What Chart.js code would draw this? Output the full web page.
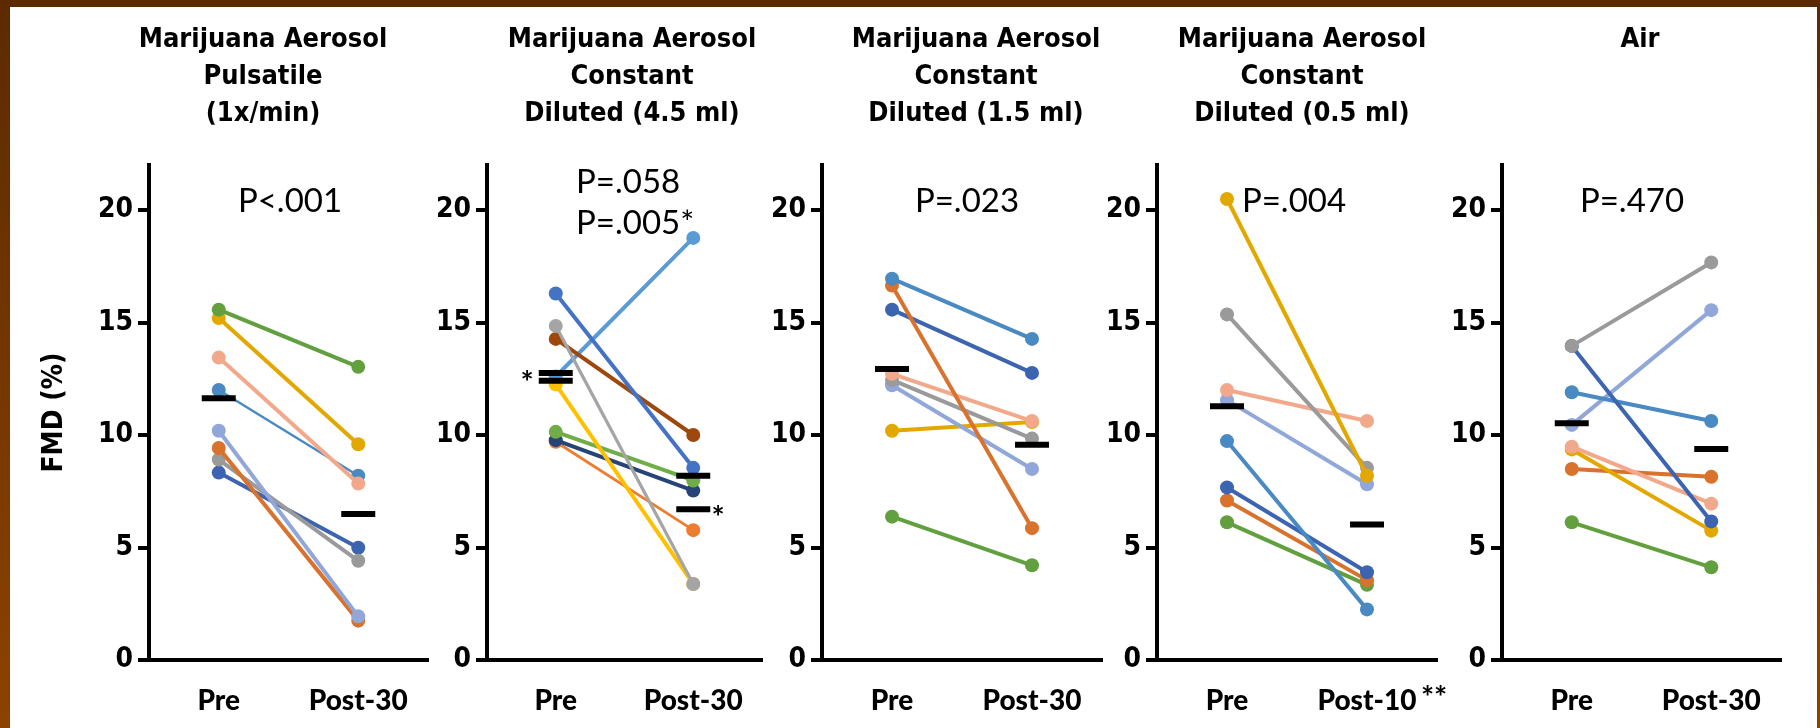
<!DOCTYPE html>
<html>
<head>
<meta charset="utf-8">
<script src="https://cdn.jsdelivr.net/npm/chart.js@4.4.1/dist/chart.umd.min.js"></script>
<style>
  html, body { margin: 0; padding: 0; background: #fff; width: 1820px; height: 728px; overflow: hidden; }
  .frame { position: absolute; }
  #frameTop { left: 0; top: 0; width: 1820px; height: 7px; background: #5c2a00; }
  #frameLeft { left: 0; top: 0; width: 10px; height: 728px; background: linear-gradient(#5c2a00, #8c4300); }
  #frameRight { right: 0; top: 0; width: 3px; height: 728px; background: linear-gradient(#5c2a00, #8c4300); }
  canvas { position: absolute; top: 0; }
</style>
</head>
<body>
<div class="frame" id="frameTop"></div>
<div class="frame" id="frameLeft"></div>
<div class="frame" id="frameRight"></div>
<canvas id="p1"></canvas>
<canvas id="p2"></canvas>
<canvas id="p3"></canvas>
<canvas id="p4"></canvas>
<canvas id="p5"></canvas>
<script>
// ---- data: FMD (%) per subject, before and after exposure ----
const timeLabels = ['Pre', 'Post-30'];
const timeLabels10 = ['Pre', 'Post-10'];
const yTickValues = [0, 5, 10, 15, 20];
const yMax = 22;

// Marijuana aerosol, pulsatile (1x/min)
const pulsatilePre  = [15.57, 15.20, 13.44, 12.00, 10.19, 9.42, 8.91, 8.33];
const pulsatilePost = [13.03,  9.59,  7.84,  8.19,  1.94, 1.75, 4.41, 4.99];
const pulsatileMean = [11.63, 6.49];

// Marijuana aerosol, constant, diluted 4.5 ml
const dil45Pre  = [16.29, 14.85, 14.27, 12.60, 12.25, 10.14, 9.77, 9.70];
const dil45Post = [ 8.54,  3.38, 10.00, 18.76,  3.38,  7.98, 7.53, 5.77];
const dil45Mean     = [12.41, 8.19];
const dil45MeanStar = [12.76, 6.70];

// Marijuana aerosol, constant, diluted 1.5 ml
const dil15Pre  = [16.95, 16.64, 15.57, 12.72, 12.45, 12.21, 10.19, 6.37];
const dil15Post = [14.27,  5.86, 12.76, 10.62,  9.84,  8.49, 10.58, 4.21];
const dil15Mean = [12.93, 9.57];

// Marijuana aerosol, constant, diluted 0.5 ml
const dil05Pre  = [20.49, 15.36, 12.00, 11.55, 9.73, 7.67, 7.09, 6.12];
const dil05Post = [ 8.19,  8.54, 10.62,  7.81, 2.25, 3.90, 3.55, 3.34];
const dil05Mean = [11.28, 6.02];

// Air
const airPre  = [13.96, 13.96, 11.90, 10.45, 9.48, 9.36, 8.49, 6.12];
const airPost = [17.67,  6.16, 10.62, 15.55, 6.95, 5.75, 8.14, 4.12];
const airMean = [10.52, 9.38];

// ---- styling ----
const C = {
  green: '#62a03f', gold: '#e3a800', salmon: '#f2a98b', steel: '#4a8ac3',
  lavender: '#91a7da', orange: '#d8722d', gray: '#9a9a9a', darkBlue: '#3c64b1'
};
const C2 = {
  blue: '#4472c4', gray: '#a5a5a5', brown: '#9e480e', lightBlue: '#5b9bd5',
  yellow: '#ffc000', green: '#70ad47', navy: '#264478', orange: '#ed7d31'
};

const FONT_TITLE = 'bold 27px "DejaVu Sans Condensed"';
const FONT_P = '33px Lato';
const FONT_STAR = 'bold 31px Lato';
const AXIS_TOP = 165, AXIS_BOTTOM = 660, PAGE_H = 728;

// draws the free-standing texts of a panel (titles, p values, asterisks)
const panelText = {
  id: 'panelText',
  afterDraw(chart, args, opts) {
    const ctx = chart.ctx;
    ctx.save();
    ctx.fillStyle = '#000';
    for (const t of opts.items) {
      ctx.font = t.font;
      const x = t.x - opts.left;
      if (t.ink) {
        ctx.textAlign = 'left';
        ctx.textBaseline = 'alphabetic';
        const m = ctx.measureText(t.text);
        const w = m.actualBoundingBoxLeft + m.actualBoundingBoxRight;
        const h = m.actualBoundingBoxAscent + m.actualBoundingBoxDescent;
        ctx.fillText(t.text, x - w / 2 + m.actualBoundingBoxLeft, t.y + m.actualBoundingBoxAscent - h / 2);
      } else {
        ctx.textAlign = t.align || 'center';
        ctx.textBaseline = 'middle';
        ctx.fillText(t.text, x, t.y);
      }
    }
    ctx.restore();
  }
};

function subjectSets(pre, post, colors, widths) {
  return pre.map((v, i) => ({
    data: [v, post[i]],
    borderColor: colors[i],
    backgroundColor: colors[i],
    pointBackgroundColor: colors[i],
    pointBorderColor: colors[i],
    pointBorderWidth: 0,
    pointRadius: 7,
    pointHoverRadius: 7,
    borderWidth: widths ? widths[i] : 4,
    tension: 0
  }));
}

function meanSet(values) {
  return {
    data: values,
    showLine: false,
    pointStyle: 'line',
    pointRadius: 17,
    pointHoverRadius: 17,
    pointBorderWidth: 6,
    pointBorderColor: '#000',
    pointBackgroundColor: '#000',
    borderColor: '#000',
    order: -1
  };
}

function makePanel(id, left, right, axisX, axisEnd, labels, datasets, texts, yTitle) {
  const cv = document.getElementById(id);
  cv.width = right - left;
  cv.height = PAGE_H;
  cv.style.left = left + 'px';
  cv.style.width = (right - left) + 'px';
  cv.style.height = PAGE_H + 'px';
  return new Chart(cv, {
    type: 'line',
    data: { labels: labels, datasets: datasets },
    plugins: [panelText],
    options: {
      responsive: false,
      animation: false,
      devicePixelRatio: 1,
      events: [],
      layout: { padding: { top: AXIS_TOP, right: right - axisEnd, bottom: 0, left: 0 } },
      plugins: {
        legend: { display: false },
        tooltip: { enabled: false },
        title: { display: false },
        panelText: { left: left, items: texts }
      },
      scales: {
        x: {
          type: 'category',
          offset: true,
          grid: { display: false, drawTicks: false, tickLength: 0 },
          border: { display: true, color: '#000', width: 4 },
          ticks: { color: '#000', font: { family: 'Lato', weight: '900', size: 28 }, padding: 24, maxRotation: 0 },
          afterFit(scale) { scale.height = PAGE_H - AXIS_BOTTOM; }
        },
        y: {
          min: 0,
          max: yMax,
          afterBuildTicks(scale) { scale.ticks = yTickValues.map(v => ({ value: v })); },
          afterFit(scale) { scale.width = axisX - left; },
          grid: { drawOnChartArea: false, drawTicks: true, tickLength: 11, color: '#000', lineWidth: 4 },
          border: { display: true, color: '#000', width: 4 },
          ticks: { color: '#000', font: { family: 'DejaVu Sans Condensed', weight: 'bold', size: 28 }, padding: 5 },
          title: yTitle ? {
            display: true, text: yTitle, color: '#000',
            font: { family: 'DejaVu Sans Condensed', weight: 'bold', size: 28 },
            padding: { top: 28, bottom: 0 }
          } : { display: false }
        }
      }
    }
  });
}

const titleRows = [40, 77, 114];
function titleItems(lines, cx) {
  return lines.map((s, i) => ({ text: s, x: cx, y: titleRows[i], font: FONT_TITLE }));
}

makePanel('p1', 10, 470, 149, 428, timeLabels,
  subjectSets(pulsatilePre, pulsatilePost,
    [C.green, C.gold, C.salmon, C.steel, C.lavender, C.orange, C.gray, C.darkBlue],
    [4, 4, 4, 2.5, 4, 4, 4, 4]).concat([meanSet(pulsatileMean)]),
  titleItems(['Marijuana Aerosol', 'Pulsatile', '(1x/min)'], 263).concat([
    { text: 'P<.001', x: 290, y: 201, font: FONT_P }
  ]),
  'FMD (%)');

makePanel('p2', 352, 807, 487, 762, timeLabels,
  subjectSets(dil45Pre, dil45Post,
    [C2.blue, C2.gray, C2.brown, C2.lightBlue, C2.yellow, C2.green, C2.navy, C2.orange],
    [4, 3.2, 4, 4, 4, 4, 4, 2.8]).concat([meanSet(dil45Mean), meanSet(dil45MeanStar)]),
  titleItems(['Marijuana Aerosol', 'Constant', 'Diluted (4.5 ml)'], 632).concat([
    { text: 'P=.058', x: 576, y: 182, font: FONT_P, align: 'left' },
    { text: 'P=.005*', x: 576, y: 223, font: FONT_P, align: 'left' },
    { text: '*', x: 527, y: 375, font: FONT_STAR, ink: true },
    { text: '*', x: 718, y: 510, font: FONT_STAR, ink: true }
  ]));

makePanel('p3', 687, 1147, 822, 1102, timeLabels,
  subjectSets(dil15Pre, dil15Post,
    [C.steel, C.orange, C.darkBlue, C.salmon, C.gray, C.lavender, C.gold, C.green]).concat([meanSet(dil15Mean)]),
  titleItems(['Marijuana Aerosol', 'Constant', 'Diluted (1.5 ml)'], 976).concat([
    { text: 'P=.023', x: 967, y: 201, font: FONT_P }
  ]));

makePanel('p4', 1022, 1482, 1157, 1437, timeLabels10,
  subjectSets(dil05Pre, dil05Post,
    [C.gold, C.gray, C.salmon, C.lavender, C.steel, C.darkBlue, C.orange, C.green]).concat([meanSet(dil05Mean)]),
  titleItems(['Marijuana Aerosol', 'Constant', 'Diluted (0.5 ml)'], 1302).concat([
    { text: 'P=.004', x: 1294, y: 201, font: FONT_P },
    { text: '**', x: 1434, y: 690, font: FONT_STAR, ink: true }
  ]));

makePanel('p5', 1367, 1817, 1502, 1781, timeLabels,
  subjectSets(airPre, airPost,
    [C.gray, C.darkBlue, C.steel, C.lavender, C.salmon, C.gold, C.orange, C.green]).concat([meanSet(airMean)]),
  titleItems(['Air'], 1640).concat([
    { text: 'P=.470', x: 1632, y: 201, font: FONT_P }
  ]));
</script>
</body>
</html>
